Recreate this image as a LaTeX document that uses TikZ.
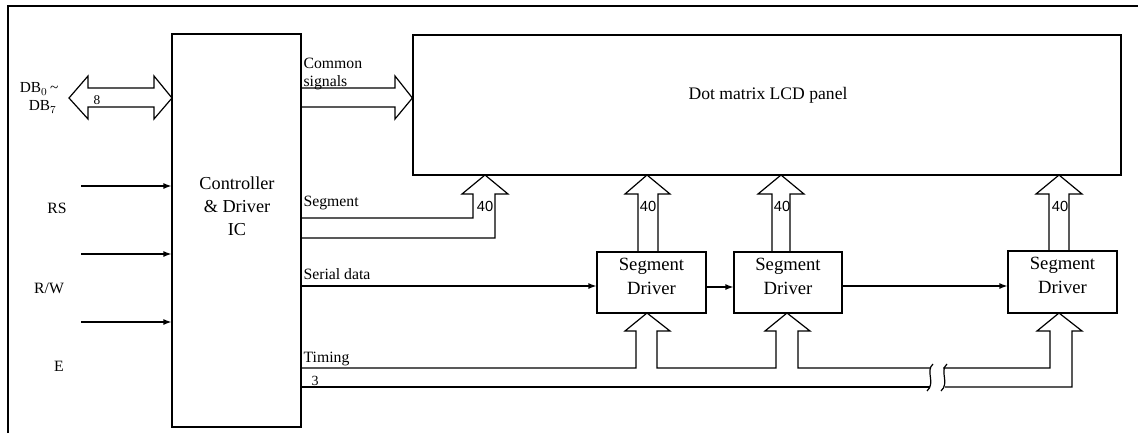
\documentclass[tikz,border=0pt]{standalone}
\usepackage{fontspec}
\setmainfont{Liberation Serif}
\newfontfamily\sansnum{Liberation Sans}
\usetikzlibrary{arrows.meta,fit}
\begin{document}
\begin{tikzpicture}[x=0.75pt,y=-0.75pt,
  line width=0.9pt,
  box/.style={draw,rectangle,inner sep=0pt,line width=0.9pt},
  bus/.style={draw,line width=0.9pt,line join=miter},
  sig/.style={draw,line width=0.9pt,-{Latex[length=6pt,width=4.5pt]}},
  lbl/.style={font=\fontsize{11.8pt}{13pt}\selectfont,inner sep=0pt},
  numlbl/.style={font=\sansnum\fontsize{11pt}{12pt}\selectfont,inner sep=0pt},
  boxtxt/.style={font=\fontsize{14pt}{18pt}\selectfont,align=center,inner sep=0pt}]
\useasboundingbox (0,0) rectangle (1138,433);
% frame
\draw[line width=2.2pt] (8,433) -- (8,6) -- (1138,6);
% boxes
\node[box,fit={(172,34) (301,427)}] (ctrl) {};
\node[boxtxt,font=\fontsize{13.7pt}{17.3pt}\selectfont] (ctrltxt) at (237,206) {Controller\\\& Driver\\IC};
\node[box,fit={(413,35) (1121,175)}] (lcd) {};
\node[inner sep=0pt,font=\fontsize{13.2pt}{15pt}\selectfont] (lcdtxt) at (768,95) {Dot matrix LCD panel};
\node[box,fit={(597,252) (706,313)},boxtxt] (d1) {Segment\\Driver};
\node[box,fit={(734,252) (842,313)},boxtxt] (d2) {Segment\\Driver};
\node[box,fit={(1008,251) (1117,313)},boxtxt] (d3) {Segment\\Driver};
% data bus DB0~DB7 (double arrow)
\draw[bus] (172,98) -- (154,76) -- (154,88) -- (88,88) -- (88,76) -- (69,98)
  -- (88,119) -- (88,107) -- (154,107) -- (154,119) -- cycle;
\node[inner sep=0pt,font=\fontsize{10pt}{12pt}\selectfont] (n8) at (97,100) {8};
\node[inner sep=0pt,anchor=east,font=\fontsize{11.5pt}{12pt}\selectfont] (db0) at (59,89) {DB$_0$\,\textasciitilde};
\node[inner sep=0pt,anchor=east,font=\fontsize{11.5pt}{12pt}\selectfont] (db7) at (57,107) {DB$_7$};
% common signals bus
\draw[bus] (ctrl.east |- 0,88) -- (395,88) -- (395,76) -- (lcd.west |- 0,98) -- (395,119) -- (395,107) -- (ctrl.east |- 0,107);
\node[lbl,anchor=base west] (common) at (303,68) {Common};
\node[lbl,anchor=base west] (signals) at (303,86) {signals};
% segment bus to LCD
\draw[bus] (ctrl.east |- 0,218) -- (473,218) -- (473,194) -- (462,194) -- (485,175) -- (508,194) -- (495,194) -- (495,238) -- (ctrl.east |- 0,238);
\node[lbl,anchor=base west] (segl) at (303,206) {Segment};
\node[numlbl] (f1) at (485,206) {40};
% driver buses to LCD
\draw[bus] (638,252) -- (638,194) -- (625,194) -- (647,175) -- (670,194) -- (658,194) -- (658,252);
\node[numlbl] (f2) at (648,206) {40};
\draw[bus] (772,252) -- (772,194) -- (758,194) -- (781,175) -- (804,194) -- (790,194) -- (790,252);
\node[numlbl] (f3) at (782,206) {40};
\draw[bus] (1049,251) -- (1049,194) -- (1036,194) -- (1059,175) -- (1082,194) -- (1069,194) -- (1069,251);
\node[numlbl] (f4) at (1060,206) {40};
% control inputs
\coordinate (rsin) at (81,186);
\coordinate (rwin) at (81,254);
\coordinate (ein) at (81,322);
\draw[sig] (rsin) -- (ctrl.west |- rsin);
\draw[sig] (rwin) -- (ctrl.west |- rwin);
\draw[sig] (ein) -- (ctrl.west |- ein);
\node[lbl] (rs) at (57,208) {RS};
\node[lbl] (rw) at (49,288) {R/W};
\node[lbl] (e) at (59,366) {E};
% serial data
\draw[sig] (ctrl.east |- 0,286) -- (d1.west |- 0,286);
\draw[sig] (d1.east |- 0,287) -- (d2.west |- 0,287);
\draw[sig] (d2.east |- 0,286) -- (d3.west |- 0,286);
\node[lbl,anchor=base west] (serial) at (303,279) {Serial data};
% timing bus
\draw[bus] (ctrl.east |- 0,368) -- (636,368) -- (636,331) -- (625,331) -- (647,313) -- (670,331) -- (657,331) -- (657,368)
  -- (776,368) -- (776,331) -- (765,331) -- (787,313) -- (810,331) -- (798,331) -- (798,368) -- (930,368);
\draw[bus] (943,368) -- (1050,368) -- (1050,331) -- (1037,331) -- (1059,313) -- (1082,331) -- (1072,331) -- (1072,387) -- (945,387);
\draw[bus] (ctrl.east |- 0,387) -- (930,387);
% break marks
\draw[line width=0.9pt] (933,364) .. controls (925,371) and (936,383) .. (927,391);
\draw[line width=0.9pt] (947,364) .. controls (939,371) and (950,383) .. (941,391);
\node[lbl,anchor=base west] (timing) at (303,362) {Timing};
\node[inner sep=0pt,anchor=base,font=\fontsize{10.5pt}{12pt}\selectfont] (n3) at (315,385) {3};
\end{tikzpicture}
\end{document}
